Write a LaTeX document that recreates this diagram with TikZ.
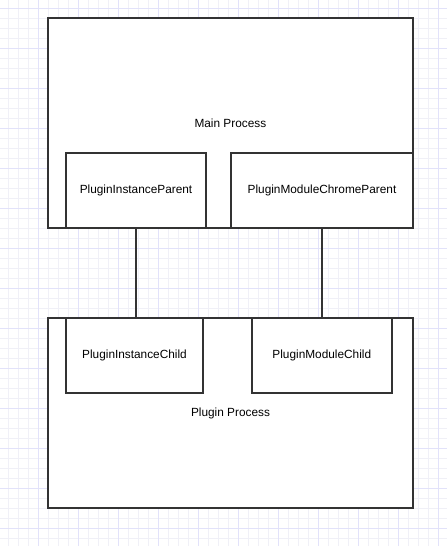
\documentclass[tikz,border=0pt]{standalone}
\usepackage{fontspec}
\setmainfont{Liberation Sans}
\definecolor{gridminor}{RGB}{240,240,247}
\definecolor{gridmajor}{RGB}{226,226,250}
\definecolor{edge}{RGB}{51,51,51}
\begin{document}
\begin{tikzpicture}[
    x=0.03cm, y=-0.03cm,
    box/.style={rectangle, draw=edge, fill=white, line width=0.06cm, font=\fontsize{10.1}{12}\selectfont},
    link/.style={draw=edge, line width=0.05cm}
]

% Background grid
\useasboundingbox (0,0) rectangle (447,546);
\foreach \gx in {8,18,...,448} \draw[gridminor, line width=0.03cm] (\gx,0) -- (\gx,546);
\foreach \gy in {8,18,...,546} \draw[gridminor, line width=0.03cm] (0,\gy) -- (447,\gy);
\foreach \gx in {38,78,...,447} \draw[gridmajor, line width=0.03cm] (\gx,0) -- (\gx,546);
\foreach \gy in {8,48,...,546} \draw[gridmajor, line width=0.03cm] (0,\gy) -- (447,\gy);

% Main Process
\node[box, minimum width=10.94cm, minimum height=6.3cm] (main) at (230.4,123) {Main Process};
\node[box, minimum width=4.2cm, minimum height=2.25cm] (ipar) at (136,190.5) {PluginInstanceParent};
\node[box, minimum width=5.46cm, minimum height=2.25cm] (mpar) at (322,190.5) {PluginModuleChromeParent};

% Plugin Process
\node[box, minimum width=10.95cm, minimum height=5.7cm] (plugin) at (230.5,413) {Plugin Process};
\node[box, minimum width=4.13cm, minimum height=2.24cm] (ichild) at (134.5,355.3) {PluginInstanceChild};
\node[box, minimum width=4.21cm, minimum height=2.24cm] (mchild) at (321.8,355.3) {PluginModuleChild};

% Connections
\draw[link] (ipar.south) -- (ipar.south |- ichild.north);
\draw[link] (mpar.south) -- (mpar.south |- mchild.north);

\end{tikzpicture}
\end{document}
